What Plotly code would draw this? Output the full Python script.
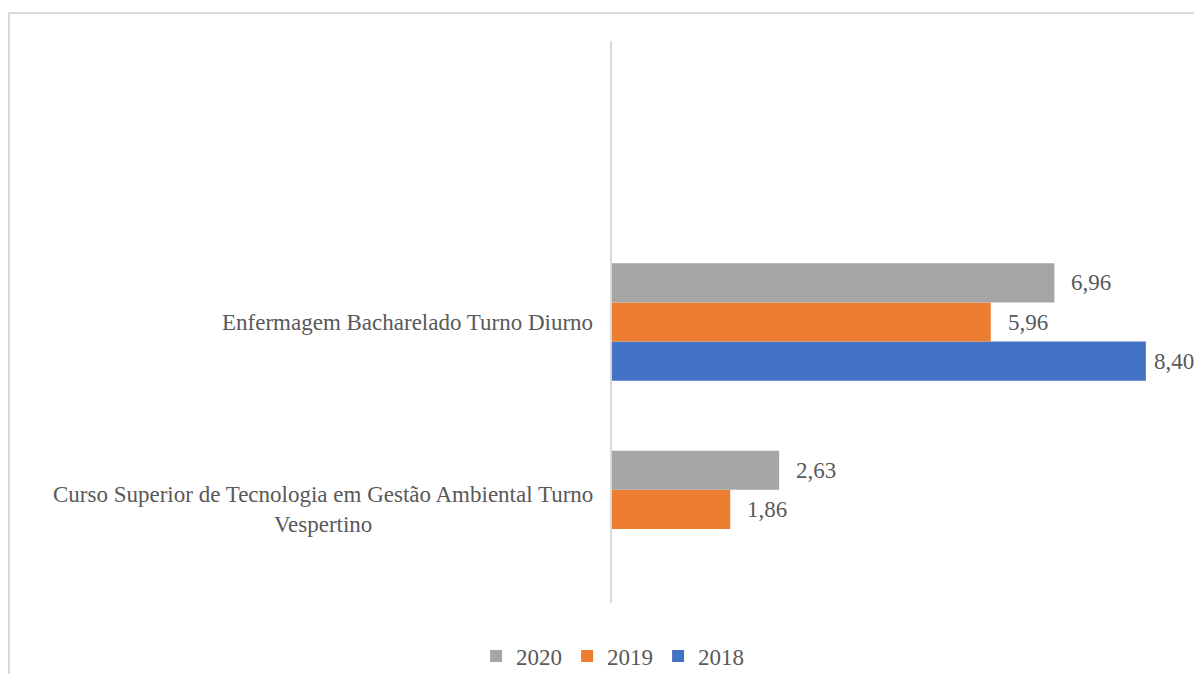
import plotly.graph_objects as go

categories = ["Curso Superior de Tecnologia em Gestão Ambiental Turno<br>Vespertino",
              "Enfermagem Bacharelado Turno Diurno",
              " "]
years = ["2018", "2019", "2020"]
values_2018 = [None, 8.40, None]
values_2019 = [1.86, 5.96, None]
values_2020 = [2.63, 6.96, None]
colors = {"2018": "#4472C4", "2019": "#ED7D31", "2020": "#A5A5A5"}

series = {"2018": values_2018, "2019": values_2019, "2020": values_2020}
cat_ids = ["c0", "c1", "c2"]

FONT = "Liberation Serif"
TXT = "#595959"
FS = 23
W, H = 1202, 666
ML, MR, MT, MB = 604, 26, 33, 71
XMAX = 9
plot_w = W - ML - MR

fig = go.Figure()
for yr in years:
    fig.add_trace(go.Bar(
        name=yr, y=cat_ids, x=series[yr], orientation="h",
        marker=dict(color=colors[yr], line=dict(width=0)),
        offsetgroup=yr,
    ))

annotations = []
n = len(years)
for i, yr in enumerate(years):
    for j, v in enumerate(series[yr]):
        if v is None:
            continue
        off = (i - (n - 1) / 2) * (1 - 0.374) / n
        end_px = ML + v / XMAX * plot_w
        shift = max(4, min(15, int(W - 17 - 41 - end_px)))
        annotations.append(dict(
            x=v, y=j + off, xref="x", yref="y",
            text=f"{v:.2f}".replace(".", ","), showarrow=False,
            xanchor="left", yanchor="middle", xshift=shift,
            font=dict(family=FONT, size=FS, color=TXT)))
for j, c in enumerate(categories):
    annotations.append(dict(
        x=0, y=j, xref="paper", yref="y", text=c, showarrow=False,
        xanchor="right", yanchor="middle", xshift=-17, align="center",
        font=dict(family=FONT, size=FS, color=TXT)))

fig.update_layout(
    annotations=annotations,
    barmode="group", bargap=0.374, bargroupgap=0,
    width=W, height=H,
    margin=dict(l=ML, r=MR, t=MT, b=MB),
    paper_bgcolor="white", plot_bgcolor="white",
    font=dict(family=FONT, size=FS, color=TXT),
    showlegend=True,
    legend=dict(orientation="h", xref="container", yref="container",
                x=0.503, xanchor="center", y=(H - 648) / H, yanchor="middle",
                traceorder="reversed", font=dict(family=FONT, size=FS, color=TXT),
                itemwidth=30),
    xaxis=dict(range=[0, XMAX], showgrid=False, zeroline=False, showticklabels=False,
               showline=False, fixedrange=True),
    yaxis=dict(type="category", categoryorder="array", categoryarray=cat_ids,
               range=[-0.5, 2.5], showticklabels=False, showgrid=False,
               showline=True, linecolor="#d9d9d9", linewidth=2, ticks=""),
    shapes=[dict(type="rect", xref="paper", yref="paper",
                 x0=-1.0542, x1=1.06, y0=-0.2, y1=1.05,
                 line=dict(color="#d9d9d9", width=2), fillcolor="rgba(0,0,0,0)", layer="below")],
)

fig.write_html("out.html")
